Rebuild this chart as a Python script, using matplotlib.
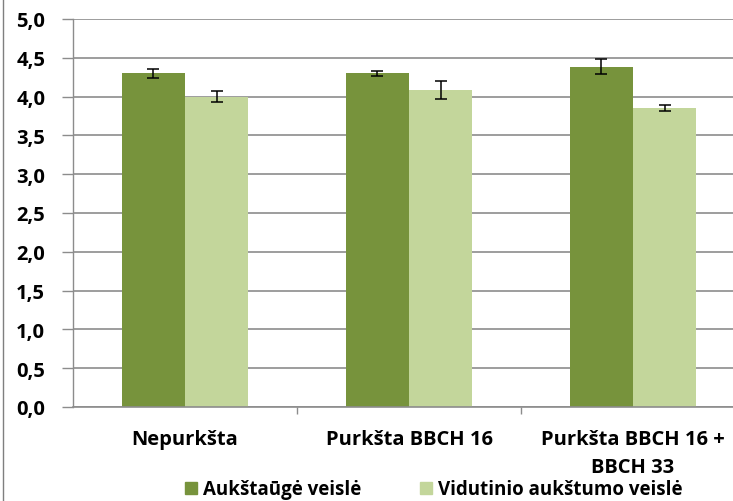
import numpy as np
import matplotlib.pyplot as plt
from matplotlib.lines import Line2D

# data
categories = ['Nepurkšta', 'Purkšta BBCH 16', 'Purkšta BBCH 16 +\nBBCH 33']
series_names = ['Aukštaūgė veislė', 'Vidutinio aukštumo veislė']
tall_vals = [4.30, 4.30, 4.385]
tall_err = [0.055, 0.035, 0.10]
mid_vals = [4.00, 4.085, 3.85]
mid_err = [0.07, 0.12, 0.04]
yticks = [0.0, 0.5, 1.0, 1.5, 2.0, 2.5, 3.0, 3.5, 4.0, 4.5, 5.0]

dark = '#77933C'
light = '#C3D69B'
grid = '#8C8C8C'

plt.rcParams['font.family'] = ['Open Sans', 'DejaVu Sans']
plt.rcParams['font.weight'] = 'bold'

fig = plt.figure(figsize=(7.33, 5.02), dpi=100)
ax = fig.add_axes([73 / 733, 1 - 408 / 502, 672 / 733, 388 / 502])

x = np.arange(len(categories))
w = 0.283
ax.bar(x - w / 2, tall_vals, w, color=dark, zorder=2)
ax.bar(x + w / 2, mid_vals, w, color=light, zorder=2)
ax.errorbar(x - w / 2, tall_vals, yerr=tall_err, fmt='none', ecolor='black',
            elinewidth=1.1, capsize=4, capthick=1.1, zorder=3)
ax.errorbar(x + w / 2, mid_vals, yerr=mid_err, fmt='none', ecolor='black',
            elinewidth=1.1, capsize=4, capthick=1.1, zorder=3)

ax.set_xlim(-0.5, 2.5)
ax.set_ylim(0, 5)
ax.set_yticks(yticks)
ax.set_yticklabels([f'{v:.1f}'.replace('.', ',') for v in yticks], fontsize=14.5, fontweight='bold')
ax.yaxis.grid(True, color=grid, linewidth=1.2, zorder=0)
ax.tick_params(axis='y', length=8, color=grid, width=1, pad=12)

# boundary ticks as major, labels on minor ticks
ax.set_xticks([0.5, 1.5])
ax.set_xticklabels([])
ax.tick_params(axis='x', which='major', length=5, color=grid, width=1)
ax.set_xticks(x, minor=True)
ax.set_xticklabels(categories, minor=True, fontsize=14.5, fontweight='bold', va='top')
ax.tick_params(axis='x', which='minor', length=0, pad=16)
for lab in ax.get_xticklabels(minor=True):
    lab.set_linespacing(1.5)

for s in ['top', 'right']:
    ax.spines[s].set_visible(False)
ax.spines['left'].set_color(grid)
ax.spines['bottom'].set_color(grid)
ax.spines['left'].set_linewidth(1)
ax.spines['bottom'].set_linewidth(1.2)

handles = [Line2D([], [], marker='s', linestyle='none', markersize=8,
                  markerfacecolor=dark, markeredgecolor=dark),
           Line2D([], [], marker='s', linestyle='none', markersize=8,
                  markerfacecolor=light, markeredgecolor=light)]
fig.legend(handles, series_names, loc='lower center', bbox_to_anchor=(0.592, 0.0),
           ncol=2, frameon=False, handlelength=0.6, borderpad=0.1,
           handletextpad=0.3, columnspacing=3.2, borderaxespad=0,
           prop={'weight': 'bold', 'size': 13.5, 'family': ['Open Sans', 'DejaVu Sans']})

# left border of the chart area
fig.add_artist(Line2D([2.5 / 733, 2.5 / 733], [0, 1], color='#7F7F7F', linewidth=1))

fig.savefig('out.png', dpi=100)
